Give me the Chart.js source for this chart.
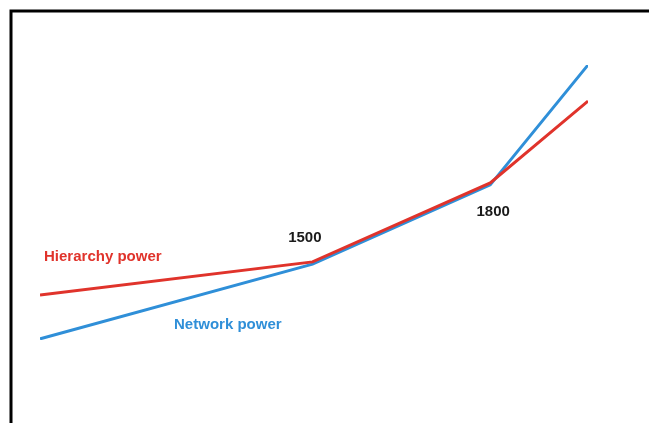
<!DOCTYPE html>
<html>
<head>
<meta charset="utf-8">
<script src="https://cdn.jsdelivr.net/npm/chart.js@4"></script>
<style>
  html, body { margin: 0; padding: 0; background: #fff; overflow: hidden; }
  #myChart { display: block; }
</style>
</head>
<body>
<canvas id="myChart" width="649" height="423"></canvas>
<script>
// years along the bottom (schematic), and the two "power" curves
const years = [1040, 1500, 1800, 1965];
const hierarchyPower = [16.4, 28.4, 57.1, 86.9];
const networkPower = [0.4, 27.6, 56.4, 100];

// text labels: [text, year, value, colour]
const notes = [
  ['Hierarchy power', 1146, 30.2, '#e0332b'],
  ['Network power', 1357, 5.5, '#2f8fd8'],
  ['1500', 1487, 37.1, '#1a1a1a'],
  ['1800', 1805, 46.5, '#1a1a1a']
];

const ctx = document.getElementById('myChart');

const framePlugin = {
  id: 'frame',
  afterDraw(chart) {
    const c = chart.ctx;
    const xs = chart.scales.x, ys = chart.scales.y;
    c.save();
    c.font = 'bold 15px "Liberation Sans", Arial, sans-serif';
    c.textAlign = 'center';
    c.textBaseline = 'middle';
    notes.forEach(n => {
      c.fillStyle = n[3];
      c.fillText(n[0], xs.getPixelForValue(n[1]), ys.getPixelForValue(n[2]));
    });
    // black frame top and left
    c.strokeStyle = '#000';
    c.lineWidth = 3;
    c.beginPath();
    c.moveTo(649, 11);
    c.lineTo(11, 11);
    c.lineTo(11, 423);
    c.stroke();
    c.restore();
  }
};

new Chart(ctx, {
  type: 'line',
  data: {
    datasets: [{
      label: 'Hierarchy power',
      data: years.map((y, i) => ({x: y, y: hierarchyPower[i]})),
      borderColor: '#e0332b',
      borderWidth: 3,
      pointRadius: 0,
      tension: 0
    }, {
      label: 'Network power',
      data: years.map((y, i) => ({x: y, y: networkPower[i]})),
      borderColor: '#2f8fd8',
      borderWidth: 3,
      pointRadius: 0,
      tension: 0
    }]
  },
  options: {
    responsive: false,
    animation: false,
    layout: { padding: { left: 40, right: 61, top: 65, bottom: 83 } },
    plugins: { legend: { display: false }, tooltip: { enabled: false } },
    scales: {
      x: { type: 'linear', min: 1040, max: 1965, display: false },
      y: { min: 0, max: 100, display: false }
    }
  },
  plugins: [framePlugin]
});
</script>
</body>
</html>
